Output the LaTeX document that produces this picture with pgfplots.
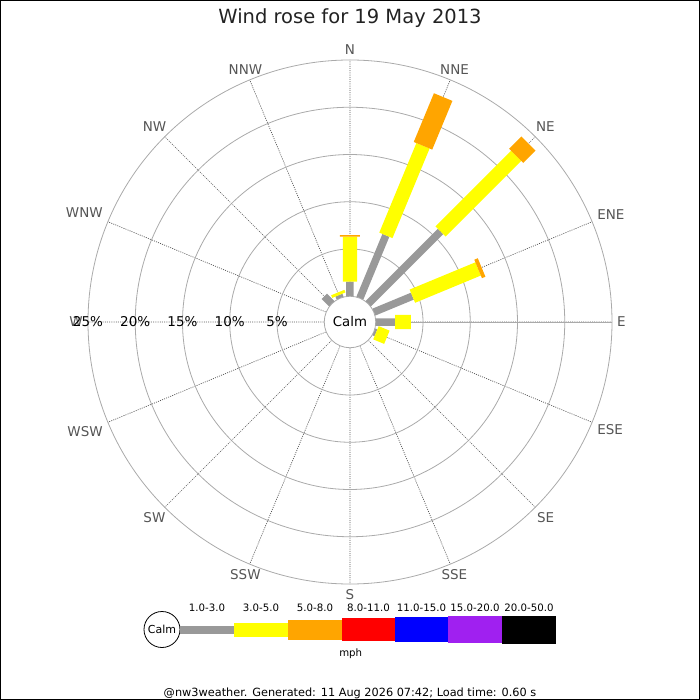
\documentclass[border=0pt]{standalone}
\usepackage{fontspec}
\setmainfont{DejaVu Sans}
\usepackage{pgfplots}
\usepackage{pgfplotstable}
\usepgfplotslibrary{polar}
\pgfplotsset{compat=1.18}
\definecolor{bargray}{HTML}{999999}
\definecolor{baryellow}{HTML}{FFFF00}
\definecolor{barorange}{HTML}{FFA500}
\definecolor{barred}{HTML}{FF0000}
\definecolor{barblue}{HTML}{0000FF}
\definecolor{barpurple}{HTML}{A020F0}
\definecolor{ringgray}{HTML}{AAAAAA}
\definecolor{spokegray}{HTML}{555555}
\definecolor{labgray}{HTML}{555555}
\newcommand{\fs}[1]{\fontsize{#1}{#1}\selectfont}
% bars: bearing (deg), cumulative percent; segments separated by nan rows
\pgfplotstableread{
dir p
0 0
0 1.54
nan nan
22.5 0
22.5 7.2
nan nan
45 0
45 10.82
nan nan
67.5 0
67.5 4.42
nan nan
90 0
90 2.04
nan nan
112.5 0
112.5 0.25
nan nan
315 0
315 1.12
nan nan
337.5 0
337.5 0.35
}\graydata
\pgfplotstableread{
dir p
0 1.54
0 6.30
nan nan
22.5 7.2
22.5 17.46
nan nan
45 10.82
45 22.14
nan nan
67.5 4.42
67.5 11.95
nan nan
90 2.04
90 3.73
nan nan
112.5 0.25
112.5 1.5
nan nan
337.5 0.35
337.5 0.65
}\yellowdata
\pgfplotstableread{
dir p
0 6.30
0 6.48
nan nan
22.5 17.46
22.5 23.04
nan nan
45 22.14
45 23.98
nan nan
67.5 11.95
67.5 12.35
}\orangedata
\begin{document}
\begin{tikzpicture}[x=1pt,y=1pt]
\begin{pgfinterruptboundingbox}
\begin{polaraxis}[
  at={(0,0)}, anchor=origin,
  scale only axis, width=524pt, height=524pt,
  xmin=0, xmax=360, ymin=0, ymax=27.725,
  xtick={0,22.5,...,337.5},
  xticklabels={},
  ytick={7.725,12.725,17.725,22.725},
  yticklabels={},
  xmajorgrids, ymajorgrids,
  major x grid style={spokegray, line width=0.7pt, dash pattern=on 1pt off 1.2pt},
  major y grid style={ringgray, line width=0.8pt, solid},
  axis line style={ringgray, line width=0.8pt},
  xtick style={draw=none}, ytick style={draw=none},
  unbounded coords=jump,
  clip=false,
]
\addplot[bargray, line width=7.5pt, no markers] table[x expr=90-\thisrow{dir}, y expr=\thisrow{p}+2.725] {\graydata};
\addplot[baryellow, line width=14.3pt, no markers] table[x expr=90-\thisrow{dir}, y expr=\thisrow{p}+2.725] {\yellowdata};
\addplot[barorange, line width=20pt, no markers] table[x expr=90-\thisrow{dir}, y expr=\thisrow{p}+2.725] {\orangedata};
\coordinate (C) at (axis cs:0,0);
\node[circle, draw=ringgray, line width=0.8pt, fill=white, minimum size=51.5pt, inner sep=0pt, font=\fs{13.3}] at (axis cs:0,0) {Calm};
% compass labels
\begin{scope}[every node/.style={font=\fs{13.5}, text=labgray, inner sep=5pt}]
\node[anchor=270]   at (axis cs:90,27.725)    {N};
\node[anchor=247.5] at (axis cs:67.5,27.725)  {NNE};
\node[anchor=225]   at (axis cs:45,27.725)    {NE};
\node[anchor=202.5] at (axis cs:22.5,27.725)  {ENE};
\node[anchor=180]   at (axis cs:0,27.725)     {E};
\node[anchor=157.5] at (axis cs:-22.5,27.725) {ESE};
\node[anchor=135]   at (axis cs:-45,27.725)   {SE};
\node[anchor=112.5] at (axis cs:-67.5,27.725) {SSE};
\node[anchor=90]    at (axis cs:-90,27.725)   {S};
\node[anchor=67.5]  at (axis cs:-112.5,27.725){SSW};
\node[anchor=45]    at (axis cs:-135,27.725)  {SW};
\node[anchor=22.5]  at (axis cs:-157.5,27.725){WSW};
\node[anchor=0]     at (axis cs:180,27.725)   {W};
\node[anchor=-22.5] at (axis cs:157.5,27.725) {WNW};
\node[anchor=-45]   at (axis cs:135,27.725)   {NW};
\node[anchor=-67.5] at (axis cs:112.5,27.725) {NNW};
\end{scope}
\node[font=\fs{13.5}] at (axis cs:180,7.725) {5\%};
\node[font=\fs{13.5}] at (axis cs:180,12.725) {10\%};
\node[font=\fs{13.5}] at (axis cs:180,17.725) {15\%};
\node[font=\fs{13.5}] at (axis cs:180,22.725) {20\%};
\node[font=\fs{13.5}] at (axis cs:180,27.725) {25\%};
\end{polaraxis}
\end{pgfinterruptboundingbox}
\begin{scope}[shift={(C)}, shift={(-350,-378)}]
\useasboundingbox (0,0) rectangle (700,700);
\draw[black, line width=1pt] (0.5,0.5) rectangle (699.5,699.5);
\node[anchor=base, font=\fs{19.5}, text={rgb,255:red,34;green,34;blue,34}] at (350,676.7) {Wind rose for 19 May 2013};
% legend
\draw[black, line width=0.8pt, fill=white] (162,70.5) circle (18);
\node[font=\fs{11}] at (162,70.5) {Calm};
\fill[bargray] (180,66.5) rectangle (234,74.5);
\fill[baryellow] (234,63.5) rectangle (288,77.5);
\fill[barorange] (288,60.5) rectangle (342,80.5);
\fill[barred] (342,59) rectangle (395,82);
\fill[barblue] (395,58) rectangle (448,83);
\fill[barpurple] (448,57) rectangle (502,84);
\fill[black] (502,56.5) rectangle (556,84.5);
\begin{scope}[every node/.style={anchor=base, font=\fs{10.2}}]
\node at (207,89) {1.0-3.0};
\node at (261,89) {3.0-5.0};
\node at (315,89) {5.0-8.0};
\node at (368.5,89) {8.0-11.0};
\node at (421.5,89) {11.0-15.0};
\node at (475,89) {15.0-20.0};
\node at (529,89) {20.0-50.0};
\node at (350.7,44) {mph};
\end{scope}
\node[anchor=base, font=\fs{11.3}] at (350,3.5) {@nw3weather. Generated: 11 Aug 2026 07:42; Load time: 0.60 s};
\end{scope}
\end{tikzpicture}
\end{document}
